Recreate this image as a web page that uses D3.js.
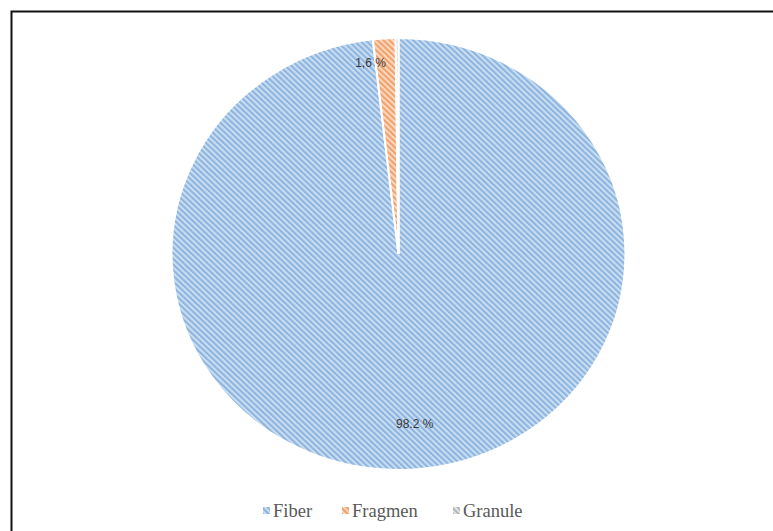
<!DOCTYPE html>
<html>
<head>
<meta charset="utf-8">
<script src="https://cdn.jsdelivr.net/npm/d3@7"></script>
<style>
  body { margin: 0; background: #fff; }
</style>
</head>
<body>
<script>
var w = 773;
var h = 531;

var categories = ["Fiber", "Fragmen", "Granule"];
var values = [98.2, 1.6, 0.2];
var labels = ["98.2 %", "1,6 %", ""];

var baseColors = ["#cadef2", "#fbd8bf", "#e2e2e2"];
var stripeColors = ["#8db4df", "#f0a06a", "#b5b5b5"];

var svg = d3.select("body").append("svg")
  .attr("width", w)
  .attr("height", h);

// hatch patterns
var defs = svg.append("defs");
categories.forEach(function(c, i) {
  var p = defs.append("pattern")
    .attr("id", "hatch" + i)
    .attr("patternUnits", "userSpaceOnUse")
    .attr("width", 4)
    .attr("height", 4)
    .attr("patternTransform", "rotate(-45)");
  p.append("rect").attr("width", 4).attr("height", 4).attr("fill", baseColors[i]);
  p.append("rect").attr("width", 2).attr("height", 4).attr("fill", stripeColors[i]);
});

// frame (open on right and bottom, like a cropped picture)
svg.append("path")
  .attr("d", "M11.5," + h + "V11.5H" + w)
  .attr("fill", "none")
  .attr("stroke", "#111")
  .attr("stroke-width", 2);

var cx = 398.5, cy = 254;
var ry = 216, rx = 227;

var pie = d3.pie().sort(null).value(function(d) { return d; });
var arc = d3.arc().innerRadius(0).outerRadius(ry);
var arcs = pie(values);

var g = svg.append("g")
  .attr("transform", "translate(" + cx + "," + cy + ") scale(" + (rx / ry) + ",1)");

g.selectAll("path.slice")
  .data(arcs)
  .enter()
  .append("path")
  .attr("class", "slice")
  .attr("d", arc)
  .attr("fill", function(d, i) { return "url(#hatch" + i + ")"; })
  .attr("stroke", "#fff")
  .attr("stroke-width", 2);

// data labels
var labelArc = d3.arc().innerRadius(ry * 0.79).outerRadius(ry * 0.79);
var smallArc = d3.arc().innerRadius(ry * 0.885).outerRadius(ry * 0.885);

svg.selectAll("text.lbl")
  .data(arcs)
  .enter()
  .append("text")
  .attr("class", "lbl")
  .text(function(d, i) { return labels[i]; })
  .attr("x", function(d, i) {
    var c = i == 0 ? labelArc.centroid(d) : smallArc.centroid(d);
    return cx + c[0] * rx / ry + (i == 0 ? 6 : 0);
  })
  .attr("y", function(d, i) {
    var c = i == 0 ? labelArc.centroid(d) : smallArc.centroid(d);
    return cy + c[1] + 4;
  })
  .attr("text-anchor", function(d, i) { return i == 0 ? "middle" : "end"; })
  .attr("font-family", "Liberation Sans, Arial, sans-serif")
  .attr("font-size", "12px")
  .attr("fill", "#3a3a3a");

// legend
var legendX = [263, 342, 453];
var legend = svg.selectAll("g.leg")
  .data(categories)
  .enter()
  .append("g")
  .attr("class", "leg")
  .attr("transform", function(d, i) { return "translate(" + legendX[i] + ",504)"; });

legend.append("rect")
  .attr("y", 3)
  .attr("width", 7)
  .attr("height", 7)
  .attr("fill", function(d, i) { return "url(#hatch" + i + ")"; });

legend.append("text")
  .text(function(d) { return d; })
  .attr("x", 10)
  .attr("y", 13)
  .attr("font-family", "Liberation Serif, Times New Roman, serif")
  .attr("font-size", "18.5px")
  .attr("fill", "#595959");
</script>
</body>
</html>
